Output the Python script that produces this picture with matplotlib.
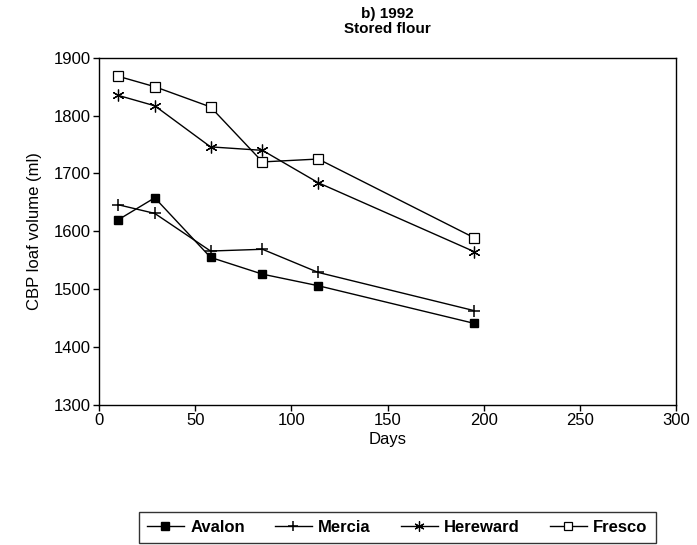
#!/usr/bin/env python3
import matplotlib

matplotlib.rcParams["font.family"] = ["Liberation Sans", "DejaVu Sans"]
matplotlib.rcParams["axes.linewidth"] = 1.0

import matplotlib.pyplot as plt

# Dane (dni przechowywania mąki)
days = [10, 29, 58, 85, 114, 195]
avalon = [1620, 1658, 1555, 1526, 1506, 1441]
mercia = [1646, 1631, 1566, 1569, 1529, 1463]
hereward = [1835, 1817, 1746, 1740, 1684, 1565]
fresco = [1868, 1850, 1815, 1720, 1725, 1589]

x_ticks = [0, 50, 100, 150, 200, 250, 300]
y_ticks = [1300, 1400, 1500, 1600, 1700, 1800, 1900]

fig = plt.figure(figsize=(6.97, 5.45), dpi=100)
ax = fig.add_axes([0.142, 0.257, 0.828, 0.637])

ax.plot(days, avalon, color="black", lw=1, marker="s", ms=6,
        mfc="black", mec="black", label="Avalon")
ax.plot(days, mercia, color="black", lw=1, marker="+", ms=9,
        mew=1.1, label="Mercia")
ax.plot(days, hereward, color="black", lw=1, marker=(6, 2, 0), ms=8.5,
        mew=0.9, label="Hereward")
ax.plot(days, fresco, color="black", lw=1, marker="s", ms=7.5,
        mfc="white", mec="black", mew=0.9, label="Fresco")

ax.set_xlim(0, 300)
ax.set_ylim(1300, 1900)
ax.set_xticks(x_ticks)
ax.set_yticks(y_ticks)
ax.tick_params(direction="out", length=4, labelsize=12, width=1, pad=2)
ax.set_xlabel("Days", fontsize=12, labelpad=3)
ax.set_ylabel("CBP loaf volume (ml)", fontsize=12, labelpad=8)
ax.set_title("b) 1992\nStored flour", fontsize=11, fontweight="bold",
             linespacing=1.15, pad=17.5)

leg = fig.legend(loc="lower center", bbox_to_anchor=(0.57, -0.012), ncol=4,
                 frameon=True, fancybox=False, edgecolor="black",
                 prop={"weight": "bold", "size": 12}, handlelength=2.2,
                 columnspacing=1.8, handletextpad=0.4, borderpad=0.5,
                 markerscale=0.85)
leg.get_frame().set_linewidth(1.0)

fig.savefig("out.png", dpi=100)
